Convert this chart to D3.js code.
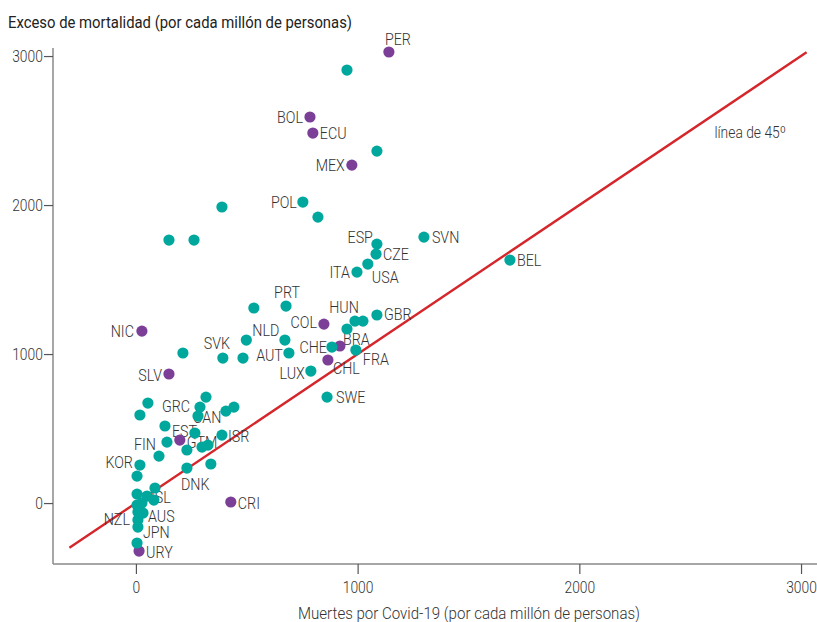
<!DOCTYPE html>
<html>
<head>
<meta charset="utf-8">
<script src="https://cdn.jsdelivr.net/npm/d3@7"></script>
<style>
  body { margin: 0; background: #fff; }
  svg { display: block; }
  text { font-family: Roboto, "DejaVu Sans Condensed", sans-serif; }
</style>
</head>
<body>
<svg width="817" height="622"></svg>
<script>
// países con etiqueta (código); los demás puntos van sin etiqueta
var paises = ["PER","BOL","ECU","MEX","COL","BRA","CHL","NIC","SLV","GTM","CRI","URY",
  "SVN","BEL","ESP","CZE","USA","ITA","POL","PRT","HUN","GBR","NLD","CHE","FRA","AUT",
  "SVK","LUX","SWE","GRC","CAN","EST","ISR","FIN","KOR","DNK","ISL","NZL","AUS","JPN"];
// muertes Covid-19 por millón
var muertes = [1141, 785, 798, 974, 848, 920, 866, 27, 149, 198, 428, 14,
  1299, 1687, 1087, 1083, 1046, 997, 753, 677, 988, 1087, 498, 884, 992, 690,
  392, 789, 862, 54, 280, 131, 388, 104, 18, 230, 50, 9, 32, 9,
  952, 1087, 388, 821, 149, 262, 532, 1024, 952, 672, 212, 483, 18, 316, 289, 406,
  442, 266, 140, 230, 298, 325, 338, 5, 5, 86, 81, 5, 27, 9, 5];
// exceso de mortalidad por millón
var exceso = [3027, 2591, 2483, 2268, 1201, 1054, 960, 1154, 866, 423, 7, -322,
  1785, 1631, 1738, 1671, 1604, 1550, 2020, 1322, 1221, 1262, 1094, 1047, 1027, 1007,
  973, 886, 711, 671, 584, 517, 456, 315, 255, 235, 47, -114, -67, -161,
  2906, 2362, 1987, 1919, 1765, 1765, 1309, 1221, 1168, 1094, 1007, 973, 591, 711, 644, 617,
  644, 470, 409, 356, 376, 389, 262, 181, 60, 101, 20, -13, 0, -60, -268];
var latam = ["PER","BOL","ECU","MEX","COL","BRA","CHL","NIC","SLV","GTM","CRI","URY"];
var xTicks = [0, 1000, 2000, 3000];
var yTicks = [0, 1000, 2000, 3000];
var linea45 = [-300, 3025];

// colocación de etiquetas: [dx, dy, anchor]
var etiqueta = {
  PER: [-4, -7, "start"], BOL: [-7, 6, "end"], ECU: [7, 6, "start"], MEX: [-7, 6, "end"],
  COL: [-7, 4, "end"], BRA: [3, -1, "start"], CHL: [5, 14, "start"], NIC: [-8, 6, "end"],
  SLV: [-7, 7, "end"], GTM: [7, 8, "start"], CRI: [7, 7, "start"], URY: [7, 7, "start"],
  SVN: [8, 6, "start"], BEL: [7, 6, "start"], ESP: [-4, -1, "end"], CZE: [7, 6, "start"],
  USA: [4, 19, "start"], ITA: [-7, 6, "end"], POL: [-6, 6, "end"], PRT: [1, -8, "middle"],
  HUN: [-11, -8, "middle"], GBR: [7, 5, "start"], NLD: [6, -4, "start"], CHE: [-5, 6, "end"],
  FRA: [7, 15, "start"], AUT: [-6, 8, "end"], SVK: [-6, -9, "middle"], LUX: [-6, 8, "end"],
  SWE: [9, 6, "start"], GRC: [14, 9, "start"], CAN: [-5, 7, "start"], EST: [7, 11, "start"],
  ISR: [6, 7, "start"], FIN: [-3, -6, "end"], KOR: [-7, 3, "end"], DNK: [-6, 22, "start"],
  ISL: [4, 7, "start"], NZL: [-8, 5, "end"], AUS: [5, 9, "start"], JPN: [5, 11, "start"]
};

var datos = muertes.map(function(m, i) {
  var p = paises[i] || "";
  return {pais: p, x: m, y: exceso[i], latam: latam.indexOf(p) >= 0};
});

var svg = d3.select("svg");
var x = d3.scaleLinear().domain([-374, 3072]).range([53, 817]);
var y = d3.scaleLinear().domain([-409, 3054]).range([564, 48]);

var gris = "#8a8a8a";
var estrecho = 0.84;

// eje x
var gx = svg.append("g").attr("transform", "translate(0," + y(-409) + ")")
  .call(d3.axisBottom(x).tickValues(xTicks).tickSize(10).tickPadding(7).tickFormat(d3.format("d")));
gx.select(".domain").attr("stroke", gris).attr("stroke-width", 1.5).attr("d", "M53,0H817");
gx.selectAll(".tick line").attr("stroke", "#555").attr("stroke-width", 1.2);
gx.selectAll(".tick text").attr("font-size", 16.5).attr("font-weight", 300).attr("fill", "#333")
  .attr("transform", "scale(" + estrecho + ",1)");

// eje y
var gy = svg.append("g").attr("transform", "translate(" + x(-374) + ",0)")
  .call(d3.axisLeft(y).tickValues(yTicks).tickSize(9).tickPadding(3).tickFormat(d3.format("d")));
gy.select(".domain").attr("stroke", gris).attr("stroke-width", 1.5).attr("d", "M0,48V564");
gy.selectAll(".tick line").attr("stroke", "#555").attr("stroke-width", 1.2);
gy.selectAll(".tick text").attr("font-size", 16.5).attr("font-weight", 300).attr("fill", "#333")
  .attr("transform", "scale(" + estrecho + ",1)");

svg.append("text").attr("x", 8).attr("y", 28).attr("font-size", 16.5).attr("fill", "#222")
  .attr("textLength", 344).attr("lengthAdjust", "spacingAndGlyphs")
  .text("Exceso de mortalidad (por cada millón de personas)");
svg.append("text").attr("x", 298).attr("y", 619)
  .attr("font-size", 16.5).attr("font-weight", 300).attr("fill", "#333")
  .attr("textLength", 342).attr("lengthAdjust", "spacingAndGlyphs")
  .text("Muertes por Covid-19 (por cada millón de personas)");

// línea de 45º
svg.append("line")
  .attr("x1", x(linea45[0])).attr("y1", y(linea45[0]))
  .attr("x2", x(linea45[1])).attr("y2", y(linea45[1]))
  .attr("stroke", "#d4262b").attr("stroke-width", 2.4);
svg.append("text").attr("transform", "translate(786,138) scale(" + estrecho + ",1)")
  .attr("text-anchor", "end").attr("font-weight", 300)
  .attr("font-size", 16.5).attr("fill", "#333").text("línea de 45º");

// etiquetas
svg.append("g").selectAll("text")
  .data(datos.filter(function(d) { return etiqueta[d.pais]; }))
  .join("text")
  .attr("transform", function(d) {
    var e = etiqueta[d.pais];
    return "translate(" + (x(d.x) + e[0]) + "," + (y(d.y) + e[1]) + ") scale(" + estrecho + ",1)";
  })
  .attr("text-anchor", function(d) { return etiqueta[d.pais][2]; })
  .attr("font-size", 17).attr("font-weight", 300).attr("fill", "#333")
  .text(function(d) { return d.pais; });

// puntos
svg.append("g").selectAll("circle")
  .data(datos)
  .join("circle")
  .attr("cx", function(d) { return x(d.x); })
  .attr("cy", function(d) { return y(d.y); })
  .attr("r", 5.6)
  .attr("fill", function(d) { return d.latam ? "#7b3f98" : "#00a79d"; });
</script>
</body>
</html>
